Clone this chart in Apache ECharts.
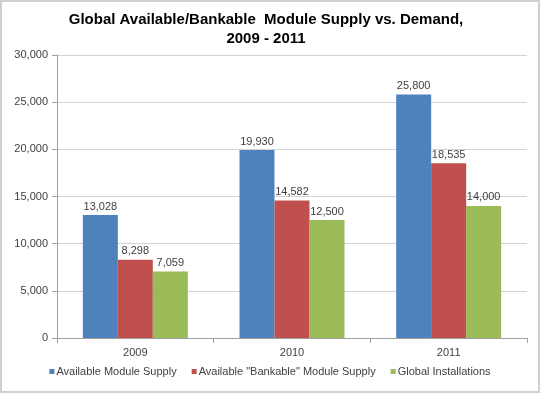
<!DOCTYPE html>
<html>
<head>
<meta charset="utf-8">
<script src="https://cdn.jsdelivr.net/npm/echarts@6/dist/echarts.min.js"></script>
<style>
html,body{margin:0;padding:0;background:#fff;}
#c{width:540px;height:393px;box-sizing:border-box;border:2px solid #d0d0d0;}
</style>
</head>
<body>
<div id="c"></div>
<script>
var categories = ['2009', '2010', '2011'];
var availableSupply = [13028, 19930, 25800];
var bankableSupply = [8298, 14582, 18535];
var installations = [7059, 12500, 14000];
var seriesNames = ['Available Module Supply', 'Available "Bankable" Module Supply', 'Global Installations'];

var chart = echarts.init(document.getElementById('c'), null, {renderer: 'canvas'});
var fmt = function (v) { return v.toLocaleString('en-US'); };
var labelStyle = {show: true, position: 'top', distance: 3, color: '#404040', fontFamily: 'Liberation Sans', fontSize: 11, formatter: function (p) { return fmt(p.value); }};
chart.setOption({
  animation: false,
  title: {
    text: 'Global Available/Bankable  Module Supply vs. Demand,\n2009 - 2011',
    left: 259, top: 3,
    textAlign: 'center',
    textStyle: {fontFamily: 'Liberation Sans', fontSize: 15, fontWeight: 'bold', color: '#000', lineHeight: 19}
  },
  legend: {
    bottom: 9, left: 'center', itemWidth: 5, itemHeight: 5, itemGap: 15,
    icon: 'rect',
    textStyle: {fontFamily: 'Liberation Sans', fontSize: 11, color: '#404040', padding: [0, 0, 0, -3]},
    data: seriesNames
  },
  grid: {left: 55, right: 11, top: 53, bottom: 53},
  xAxis: {
    type: 'category', data: categories,
    axisLine: {lineStyle: {color: '#a0a0a0'}},
    axisTick: {show: true, length: 5, lineStyle: {color: '#a0a0a0'}},
    axisLabel: {fontFamily: 'Liberation Sans', fontSize: 11, color: '#404040', margin: 9}
  },
  yAxis: {
    type: 'value', min: 0, max: 30000, interval: 5000,
    axisLine: {show: true, lineStyle: {color: '#a0a0a0'}},
    axisTick: {show: true, length: 5, lineStyle: {color: '#a0a0a0'}},
    splitLine: {lineStyle: {color: '#d4d4d4'}},
    axisLabel: {fontFamily: 'Liberation Sans', fontSize: 11, color: '#404040', margin: 9, formatter: fmt}
  },
  series: [
    {name: seriesNames[0], type: 'bar', data: availableSupply, barWidth: 35, barGap: '0%', itemStyle: {color: '#4F81BD'}, label: labelStyle},
    {name: seriesNames[1], type: 'bar', data: bankableSupply, barWidth: 35, itemStyle: {color: '#C0504D'}, label: labelStyle},
    {name: seriesNames[2], type: 'bar', data: installations, barWidth: 35, itemStyle: {color: '#9BBB59'}, label: labelStyle}
  ]
});
</script>
</body>
</html>
